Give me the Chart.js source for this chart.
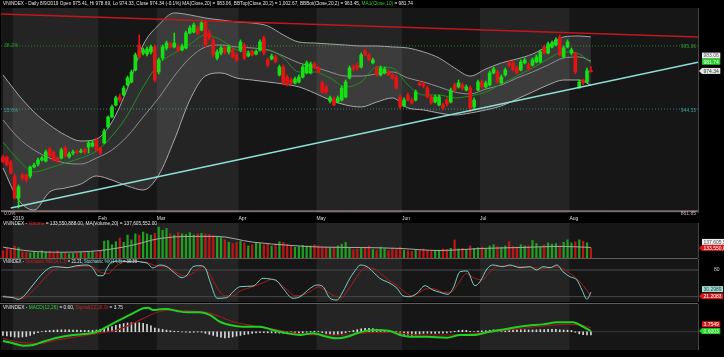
<!DOCTYPE html>
<html><head><meta charset="utf-8">
<script src="https://cdn.jsdelivr.net/npm/chart.js@4.4.1/dist/chart.umd.min.js"></script>
<style>
html,body{margin:0;padding:0;background:#000;}
#wrap{position:relative;width:724px;height:357px;background:#000;overflow:hidden;}
canvas{position:absolute;left:0;}
.hdr{position:absolute;left:3px;font-family:"Liberation Sans",Arial,sans-serif;font-size:6px;line-height:6px;color:#e4e4e4;white-space:nowrap;transform-origin:0 0;}
</style></head><body>
<div id="wrap">
<canvas id="cMain" width="724" height="222" style="top:0"></canvas>
<canvas id="cVol" width="724" height="36" style="top:222px"></canvas>
<canvas id="cSto" width="724" height="45" style="top:258px"></canvas>
<canvas id="cMacd" width="724" height="48" style="top:303px"></canvas>
<div class="hdr" id="hMain" style="top:1px"><span>VNINDEX - Daily 8/9/2019 Open 975.41, Hi 978.69, Lo 974.33, Close 974.34 (-0.1%) MA(Close,20) = 983.06, BBTop(Close,20,2) = 1,002.67, BBBot(Close,20,2) = 963.45, </span><span style="color:#2bd12b">MA1(Close,10)</span><span> = 981.74</span></div>
<div class="hdr" id="hVol" style="top:221px"><span>VNINDEX - </span><span style="color:#e02020">Volume</span><span> = 133,550,888.00, MA(Volume,20) = 137,605,552.00</span></div>
<div class="hdr" id="hSto" style="top:258.5px"><span>VNINDEX - </span><span style="color:#d02020">Stochastic %D(14,1,3)</span><span> = 21.21, </span><span style="color:#86d6c9">Stochastic %K(14,3)</span><span> = 30.30</span></div>
<div class="hdr" id="hMacd" style="top:304.5px"><span>VNINDEX - </span><span style="color:#2bd12b">MACD(12,26)</span><span> = 0.60, </span><span style="color:#d02020">Signal(12,26,9)</span><span> = 3.75</span></div>
</div>
<script>
// ---------- DATA ----------
const monthStarts = [3,25,40,61,81,103,123,146];
const monthNames  = ['2019','Feb','Mar','Apr','May','Jun','Jul','Aug'];

const opens = [905.6,905.6,901.5,890.2,872.4,891.0,891.0,890.2,897.5,899.9,
903.1,902.3,912.0,909.6,904.7,904.7,912.8,905.6,908.8,909.6,
909.6,912.0,913.6,914.4,919.3,912.8,916.9,929.8,937.9,947.6,
954.1,955.7,963.8,966.2,975.9,996.1,989.6,988.8,990.5,994.5,
974.3,985.6,993.7,996.9,994.5,994.5,992.1,993.7,1005.8,1006.6,
1009.9,1008.2,1014.7,1005.8,1000.2,985.6,989.6,993.7,990.5,992.1,
988.0,992.1,996.1,987.2,990.5,988.8,992.1,1001.8,984.0,984.8,
986.4,971.9,978.3,970.2,967.8,965.4,966.2,970.2,973.5,973.5,
980.8,977.5,965.4,962.2,950.8,952.4,950.0,951.6,954.1,969.4,
978.3,979.9,978.3,991.3,988.0,981.6,977.5,971.9,973.5,974.3,
971.9,970.2,954.1,946.8,955.7,951.6,951.6,965.4,964.6,961.3,
954.1,950.0,947.6,947.6,951.6,950.0,963.8,962.2,963.8,959.7,
961.3,946.0,959.7,966.2,962.2,963.8,973.5,974.3,965.4,971.9,
981.6,981.6,977.5,975.9,981.6,979.9,979.9,982.4,982.4,994.5,
989.6,994.5,996.1,1002.6,986.4,994.5,989.6,989.6,961.3,967.8,
966.2,975.41];
const highs = [907.2,906.4,903.1,891.8,882.9,892.6,891.8,898.3,900.7,904.7,
906.4,911.2,913.6,910.4,905.6,912.8,914.4,909.6,911.2,911.2,
912.0,912.8,918.5,918.5,920.9,913.6,928.2,938.7,947.6,954.9,
956.5,963.0,971.0,975.9,989.6,1004.2,993.7,994.5,996.1,996.1,
985.6,996.1,999.3,998.5,1005.8,996.1,996.9,1007.4,1011.5,1013.9,
1011.5,1016.3,1016.3,1008.2,1001.8,992.1,995.3,995.3,996.1,993.7,
989.6,1000.2,997.7,991.3,992.1,992.1,1000.2,1003.4,985.6,988.8,
988.0,979.9,979.9,971.9,969.4,970.2,971.9,979.9,983.2,982.4,
982.4,979.1,967.0,963.8,954.9,954.1,954.9,963.0,967.8,979.1,
979.9,981.6,989.6,992.9,989.6,985.6,979.1,979.1,978.3,975.9,
973.5,971.9,955.7,953.3,957.3,953.3,959.7,967.0,966.2,963.0,
955.7,955.7,955.7,949.2,953.3,961.3,965.4,967.8,965.4,963.8,
963.0,953.3,967.8,967.8,967.0,975.1,978.3,975.9,971.9,977.5,
983.2,983.2,979.1,984.0,985.6,981.6,985.6,988.0,992.1,996.1,
998.5,999.3,1001.8,1004.2,995.3,1000.2,993.7,990.5,967.8,968.6,
977.5,978.69];
const lows = [900.7,898.3,891.8,871.6,864.3,887.0,885.3,888.6,896.7,898.3,
902.3,901.5,905.6,902.3,900.7,903.9,905.6,904.7,907.2,908.0,
908.8,908.0,908.8,913.6,910.4,907.2,916.1,929.0,937.1,946.8,
950.0,954.9,963.0,965.4,975.1,985.6,988.0,987.2,988.8,966.2,
972.7,984.0,992.1,993.7,993.7,990.5,991.3,992.9,1005.0,1005.8,
1004.2,1007.4,994.5,1000.2,986.4,984.0,988.0,988.8,988.8,985.6,
982.4,990.5,984.0,986.4,987.2,988.0,991.3,988.0,978.3,984.0,
981.6,971.0,963.8,963.0,963.8,964.6,965.4,969.4,972.7,972.7,
976.7,973.5,957.3,956.5,949.2,946.8,949.2,950.8,953.3,968.6,
975.1,975.9,977.5,987.2,983.2,980.8,971.0,971.0,972.7,971.0,
968.6,960.5,944.4,946.0,950.8,948.4,950.8,963.0,961.3,953.3,
948.4,949.2,946.8,943.6,946.8,949.2,958.9,961.3,959.7,958.9,
941.9,944.4,958.9,961.3,961.3,963.0,972.7,965.4,964.6,971.0,
978.3,975.1,972.7,975.1,980.8,975.9,979.1,981.6,981.6,988.8,
988.8,993.7,995.3,987.2,985.6,993.7,988.0,972.7,961.3,963.8,
965.4,974.33];
const closes = [901.5,899.1,892.6,872.4,881.3,888.6,887.0,897.5,899.1,903.1,
904.7,909.6,906.4,903.1,902.3,911.2,906.4,908.0,909.6,909.2,
910.4,909.6,916.9,916.9,911.2,908.8,926.6,937.9,946.0,953.3,
951.6,961.3,969.4,974.3,988.0,986.4,992.1,992.9,994.5,967.8,
984.0,994.5,997.7,994.5,997.7,992.1,995.3,1005.8,1009.9,1012.3,
1005.8,1013.9,996.1,1001.8,988.0,990.5,993.7,990.5,994.5,986.4,
984.0,998.5,985.6,989.6,988.0,990.5,998.5,989.6,979.9,987.2,
982.4,978.3,965.4,963.8,965.4,968.6,970.2,978.3,981.6,980.8,
977.5,974.3,958.1,958.1,953.3,947.6,953.3,961.3,966.2,977.5,
976.7,977.5,988.0,988.0,984.0,984.0,971.9,977.5,976.7,971.9,
969.4,961.3,946.0,951.6,951.6,949.2,958.1,963.8,963.0,954.1,
949.2,954.1,954.1,945.2,948.4,959.7,959.7,965.4,961.3,962.2,
945.2,951.6,966.2,962.2,965.4,973.5,976.7,966.2,970.2,975.9,
979.9,975.9,973.5,982.4,984.0,976.7,984.0,986.4,990.5,989.6,
996.9,997.7,1000.2,988.0,993.7,998.5,992.1,974.3,966.2,965.4,
975.3,974.34];

// Bollinger bands / moving averages, read at every 4th bar
const bandIdx = [0,4,8,12,16,20,24,28,32,36,40,44,48,52,56,60,64,68,72,76,80,84,88,92,96,100,104,108,112,116,120,124,128,132,136,140,144,148,151];
const bbTop = [971.9,955.7,941.9,931.4,923.3,918.5,920.1,933.9,961.3,996.1,1012.3,1022.0,1020.4,1017.9,1016.3,1014.7,1013.9,1011.5,1004.2,998.5,997.7,996.9,996.1,995.3,995.3,994.5,993.7,990.5,985.6,977.5,971.0,976.7,981.6,984.8,988.8,995.3,1002.6,1003.4,1002.67];
const ma20  = [935.5,920.9,911.2,904.7,900.7,899.9,904.7,911.2,922.5,937.9,953.3,971.0,985.6,994.5,996.1,994.5,993.7,992.1,987.2,981.6,978.3,974.3,971.0,971.0,972.7,974.3,969.4,966.2,962.2,958.1,956.5,960.5,963.8,969.4,974.3,979.9,985.6,986.4,983.06];
const bbBot = [896.7,870.8,862.7,877.3,880.5,883.7,890.2,886.9,882.1,878.9,891.0,919.3,951.6,971.0,973.5,969.4,967.8,966.2,964.6,962.2,957.3,951.6,947.6,946.0,950.0,953.3,945.2,943.6,941.1,939.5,941.1,943.6,946.8,952.4,958.1,963.8,967.8,967.8,963.45];
const ma10  = [917.7,903.1,893.4,896.7,900.7,904.7,910.4,922.5,939.5,962.2,980.8,989.6,996.9,1004.2,1000.2,992.1,990.5,992.1,985.6,974.3,974.3,969.4,962.2,966.2,978.3,977.5,963.8,955.7,955.7,953.3,954.9,958.1,964.6,971.0,977.5,984.8,990.5,988.8,981.74];

const resistance = [[-0.5,1021.2],[178.5,1002.5]];
const support    = [[2,864.3],[178.5,982.1]];
const fibNames  = ['0.0%','23.6%','38.2%'];
const fibLevels = [861.85,944.33,995.36];

// volume, millions of shares
const volume = [110,130,120,150,135,100,98,92,105,95,
110,100,104,96,108,95,90,85,88,92,
100,94,98,105,96,110,190,195,160,185,
215,180,240,200,250,240,265,250,240,255,
305,280,295,250,240,260,250,245,260,240,
250,255,250,245,235,230,220,200,180,170,
180,190,175,150,160,175,170,160,170,150,
165,185,180,165,150,140,145,155,150,150,
160,150,145,140,135,140,150,165,180,130,
120,125,130,140,150,120,115,140,125,110,
130,120,140,115,110,105,115,120,125,115,
105,110,115,125,120,130,200,125,130,120,
150,130,135,140,125,150,160,145,140,150,
185,145,140,160,150,150,195,170,145,160,
175,165,170,150,180,200,175,185,200,190,
175,133.55];
const volMA = [[0,140],[7,107],[15,98],[25,112],[33,154],[40,210],[48,229],[55,229],[64,182],[74,154],[82,140],[92,137],[102,129],[112,112],[123,129],[133,137],[143,146],[151,137.6]];

// stochastic
const stochK = [[0,20],[2.6,17.8],[3.9,14.2],[5.2,20],[7.7,46.3],[10.3,73.3],[12.1,85.2],[13.9,87.4],[16.4,85.2],[19,89.7],[21.6,91.2],[23.1,83.8],[24.4,67.2],[25.7,67.2],[26.7,83.8],[28,98.6],[30,100],[32,99],[34,100],[36,97],[37,95.7],[38.5,84.5],[40.3,91.2],[42.1,87.4],[43.7,76.2],[46,62.7],[47.3,68.8],[48.8,87.4],[50.6,89.7],[51.9,85.2],[53.2,53.7],[55,16.4],[57.5,17.8],[59.1,31.2],[60.9,42.5],[64.2,44],[66.8,61.3],[68.6,59.8],[70.4,55.3],[71.9,38.9],[74.5,16.4],[76.3,20],[78.9,38.9],[80.7,46.3],[82.2,42.5],[84,16.4],[85.8,12.6],[87.3,31.2],[89.1,61.3],[90.9,83.8],[91.7,91.2],[93.5,87.4],[95,76.2],[96.8,61.3],[99.4,50.1],[101.2,38.9],[102.7,22.3],[104.5,20],[106.3,27.6],[108.4,44.7],[110.4,35.1],[112.2,29.9],[114.3,25.4],[115.6,38.9],[117.4,76.2],[119.2,77.8],[121.2,44.7],[122.5,53.7],[124.3,82.2],[125.8,91.2],[128.4,87.4],[130.2,91.2],[132.8,85.2],[135.3,87.4],[137.1,80],[138.7,87.4],[140.5,85.2],[142.3,91.2],[143.8,76.2],[145.6,64.9],[147.4,57.5],[148.7,35.1],[150,14.2],[151,30.3]];
const stochD = [[0,22],[3,18],[5,16],[7,28],[9,45],[11,65],[13,80],[15,86],[17,86],[19,87],[21,89],[23,88],[25,75],[27,72],[29,88],[31,98],[34,99],[37,97],[39,90],[41,88],[43,84],[45,72],[47,66],[49,74],[51,87],[53,72],[55,40],[57,22],[59,22],[61,33],[64,42],[67,52],[69,59],[71,50],[73,35],[75,22],[77,24],[79,32],[81,42],[83,33],[85,22],[87,19],[89,40],[91,66],[93,85],[95,84],[97,72],[99,58],[101,46],[103,32],[105,22],[107,30],[109,38],[111,37],[113,30],[115,30],[117,50],[119,72],[121,62],[123,58],[125,75],[127,88],[130,89],[133,88],[136,85],[139,84],[142,87],[144,82],[146,70],[148,55],[150,34],[151,21.21]];
const stochLevels = [20,80];

// MACD
const macd = [[0,-8.9],[2.6,-11],[5.2,-13.3],[7.7,-12.7],[10.3,-9.5],[13.9,-5.7],[18,-3.1],[21.6,-1.9],[24.2,0],[26.7,4.8],[28.3,8],[30.8,12.8],[33.4,17.5],[36,22.3],[37.3,22.9],[38.5,20.7],[40.3,21.3],[42.1,21.6],[44.7,19.7],[47.3,18.5],[50.6,18.5],[53.2,15.9],[55.7,9.5],[58.3,6.4],[61.6,4.8],[66,4.8],[69.3,1.6],[73,-1.5],[76.3,-3.1],[79.6,-1.5],[83.2,-4.8],[85.8,-6.3],[88.4,-4.8],[90.9,-1.5],[91.7,-0.6],[95,1.6],[99.4,0.7],[102,-3.1],[104.5,-4.8],[108.9,-4.8],[114,-5.7],[117.4,-3.1],[120.7,-3.1],[124.3,-0.6],[127.6,1.6],[131,3.8],[134.6,5.7],[138.7,7],[142.3,9],[146.4,9],[148.2,6.4],[150,2.6],[151,0.6]];
const signal = [[0,-6.3],[4.4,-10.1],[9.5,-11],[13.9,-7.9],[19,-4.8],[24.2,-1.5],[29.3,1.6],[33.4,8],[37,14.3],[39.6,18.5],[43.7,20.7],[48.8,19.7],[52.4,18.5],[55.7,14.3],[59.1,9.5],[64.2,5.7],[69.3,2.6],[73.7,-0.6],[78.1,-2.5],[83.2,-3.1],[88.4,-3.1],[91.7,-1.5],[96.1,-0.6],[100.2,-0.6],[104.5,-2.5],[108.9,-3.1],[114,-3.1],[119.2,-2.5],[124.3,-0.6],[129.4,1.6],[134.6,3.8],[139.7,5.7],[144.8,7],[148.2,6.4],[151,3.75]];
const macdHist = [-3.5,-4,-4.5,-5,-5.2,-5,-4.5,-3.5,-2.2,-1,
0.2,0.8,1.2,1.5,1.7,1.8,1.8,1.7,1.6,1.5,
1.4,1.3,1.3,1.4,1.6,2.2,3.0,4.0,5.0,6.0,
7.0,7.8,8.3,8.6,8.8,8.6,8.0,7.0,5.5,3.5,
2.8,2.2,1.6,1.0,0.5,0.2,-0.2,-0.5,-0.6,-0.5,
-0.3,-0.5,-1.5,-2.5,-3.5,-4.5,-5.3,-5.8,-5.5,-5.0,
-4.2,-3.5,-2.8,-2.2,-1.6,-1.2,-1.0,-0.9,-1.0,-1.1,
-1.2,-1.4,-1.5,-1.6,-1.7,-1.6,-1.4,-1.0,-0.5,0.2,
0.5,0.2,-0.8,-1.6,-2.2,-2.8,-2.5,-1.8,-1.0,0.2,
1.2,2.0,2.8,3.2,3.3,3.0,2.4,1.8,1.2,0.8,
0.3,-0.5,-1.8,-2.6,-3.2,-3.5,-3.0,-2.2,-1.6,-1.4,
-1.5,-1.6,-1.4,-1.3,-1.2,-0.5,0.5,1.2,1.5,1.3,
0.3,0.2,0.6,0.9,1.0,1.4,1.8,1.7,1.6,1.7,
2.0,1.9,1.7,1.8,1.9,1.7,1.7,1.8,2.0,2.0,
2.2,2.3,2.4,1.8,1.6,1.5,1.2,-0.5,-2.0,-2.8,
-3.0,-3.15];

// ---------- STYLE ----------
const X_MIN = -0.5, X_MAX = 178.5;
const GREEN = '#14e014', RED = '#e31414';
const DARK = '#161616', LIGHT = '#242424';
const FONT = '"Liberation Sans", Arial, sans-serif';

const isUp = i => closes[i] >= opens[i];
const pts = arr => arr.map(p => ({x:p[0], y:p[1]}));
const sampled = vals => bandIdx.map((x,k) => ({x, y:vals[k]}));
const hline = v => [{x:X_MIN,y:v},{x:X_MAX,y:v}];
const lineDs = (data, color, width, extra) => Object.assign({type:'line', data, borderColor:color, borderWidth:width, pointRadius:0, pointHitRadius:0, fill:false, cubicInterpolationMode:'monotone'}, extra||{});

const shadePlugin = {
  id:'shade',
  beforeDraw(chart){
    const {ctx, chartArea:a, scales:{x}} = chart;
    ctx.save();
    ctx.fillStyle = '#000'; ctx.fillRect(0,0,chart.width,chart.height);
    ctx.fillStyle = DARK; ctx.fillRect(a.left,a.top,a.right-a.left,a.bottom-a.top);
    ctx.fillStyle = LIGHT;
    for (let m = 0; m < monthStarts.length-1; m += 2) {
      const x0 = x.getPixelForValue(monthStarts[m]-0.5), x1 = x.getPixelForValue(monthStarts[m+1]-0.5);
      ctx.fillRect(x0, a.top, x1-x0, a.bottom-a.top);
    }
    ctx.restore();
  },
  afterDraw(chart){
    const {ctx, chartArea:a} = chart;
    ctx.save();
    ctx.strokeStyle = '#474747'; ctx.lineWidth = 1;
    ctx.beginPath(); ctx.moveTo(a.right+0.5, a.top); ctx.lineTo(a.right+0.5, a.bottom); ctx.stroke();
    if (chart.options.plugins.shade && chart.options.plugins.shade.topLine) {
      ctx.strokeStyle = '#5e5e5e';
      ctx.beginPath(); ctx.moveTo(0, 0.5); ctx.lineTo(a.right, 0.5); ctx.stroke();
    }
    ctx.restore();
  }
};

function tag(ctx, x, y, text, bg, fg, arrow){
  ctx.font = '5px ' + FONT;
  const w = ctx.measureText(text).width + 3;
  ctx.fillStyle = bg;
  ctx.fillRect(x, y-3, w, 6);
  if (arrow) { ctx.beginPath(); ctx.moveTo(x, y-3); ctx.lineTo(x-3, y); ctx.lineTo(x, y+3); ctx.closePath(); ctx.fill(); }
  ctx.fillStyle = fg; ctx.textAlign = 'left'; ctx.textBaseline = 'middle';
  ctx.fillText(text, x+1.5, y+0.4);
}

function baseOptions(yMin, yMax, padding, xOpts){
  return {
    responsive:false, animation:false, devicePixelRatio:1, events:[],
    layout:{padding},
    plugins:{legend:{display:false}, tooltip:{enabled:false}},
    scales:{
      x: Object.assign({type:'linear', min:X_MIN, max:X_MAX, offset:false, display:false, bounds:'ticks'}, xOpts||{}),
      y: {type:'linear', min:yMin, max:yMax, display:false}
    }
  };
}

// ---------- MAIN PRICE CHART ----------
const fibColors = ['#c9abb1','#3f9a93','#2f9a2f'];
const mainLabels = {
  id:'mainLabels',
  afterDraw(chart){
    const {ctx, chartArea:a, scales:{y}} = chart;
    ctx.save();
    ctx.font = '5px ' + FONT; ctx.textBaseline = 'middle';
    const leftDy = [3, 2, -0.5], rightDy = [2.5, 1.5, 0.5];
    fibLevels.forEach((v,k) => {
      const py = y.getPixelForValue(v);
      ctx.fillStyle = fibColors[k];
      ctx.textAlign = 'left'; ctx.fillText(fibNames[k], a.left+3, py+leftDy[k]);
      ctx.textAlign = 'right'; ctx.fillText(v.toFixed(2), a.right-2, py+rightDy[k]);
    });
    tag(ctx, 702, y.getPixelForValue(ma20[ma20.length-1])-5.5, ma20[ma20.length-1].toFixed(2), '#ededed', '#666', false);
    tag(ctx, 702, y.getPixelForValue(ma10[ma10.length-1])-1, ma10[ma10.length-1].toFixed(2), '#1fd21f', '#f4fff4', false);
    tag(ctx, 702, y.getPixelForValue(closes[closes.length-1])-1, closes[closes.length-1].toFixed(2), '#e6e6e6', '#333', true);
    ctx.restore();
  }
};

new Chart(document.getElementById('cMain'), {
  type:'bar',
  data:{datasets:[
    lineDs(hline(fibLevels[0]), fibColors[0], 1, {order:30}),
    lineDs(hline(fibLevels[1]), '#2f7f7a', 1, {borderDash:[1,2], order:30}),
    lineDs(hline(fibLevels[2]), '#247c24', 1, {borderDash:[1,2], order:30}),
    lineDs(sampled(bbTop), '#a3a3a3', 1, {fill:'+1', backgroundColor:'rgba(255,255,255,0.11)', order:20}),
    lineDs(sampled(bbBot), '#a3a3a3', 1, {order:20}),
    lineDs(sampled(ma20), '#8f8f8f', 1, {order:19}),
    lineDs(sampled(ma10), '#1e8f1e', 1, {order:18}),
    {type:'bar', data: closes.map((c,i)=>({x:i, y:[lows[i], highs[i]]})), backgroundColor: c=>isUp(c.dataIndex)?GREEN:RED, barThickness:1, grouped:false, order:5},
    {type:'bar', data: closes.map((c,i)=>({x:i, y:[opens[i], c]})), backgroundColor: c=>isUp(c.dataIndex)?GREEN:RED, barThickness:3, minBarLength:1, grouped:false, order:4},
    lineDs(pts(resistance), '#c4161c', 1.5, {cubicInterpolationMode:'default', order:1}),
    lineDs(pts(support), '#8fe0d4', 1.5, {cubicInterpolationMode:'default', order:1})
  ]},
  options: baseOptions(860.3, 1026.0, {left:1,right:26,top:8,bottom:0}, {
    display:true, position:'bottom',
    grid:{display:false, drawTicks:false}, border:{display:false},
    afterBuildTicks: s => { s.ticks = monthStarts.map(v => ({value:v-0.5})); },
    afterFit: s => { s.height = 9; },
    ticks:{autoSkip:false, maxRotation:0, minRotation:0, align:'start', padding:3, color:'#dcdcdc',
      font:{family:'Liberation Sans', size:5},
      callback: v => { const k = monthStarts.indexOf(Math.round(v+0.5)); return k >= 0 ? monthNames[k] : ''; }}
  }),
  plugins:[shadePlugin, mainLabels]
});

// ---------- VOLUME ----------
const volLabels = {
  id:'volLabels',
  afterDraw(chart){
    const {ctx, scales:{y}} = chart;
    ctx.save();
    tag(ctx, 702, y.getPixelForValue(volMA[volMA.length-1][1])-5.5, '137,605,552', '#ededed', '#555', false);
    tag(ctx, 702, y.getPixelForValue(volume[volume.length-1]), '133,550,888', '#d41818', '#fff', true);
    ctx.restore();
  }
};
new Chart(document.getElementById('cVol'), {
  type:'bar',
  data:{datasets:[
    lineDs(pts(volMA), '#a8a8a8', 1, {order:1}),
    {type:'bar', data: volume.map((v,i)=>({x:i, y:v})), backgroundColor: c=>isUp(c.dataIndex)?'#1f9e1f':'#bc1616', barThickness:1.6, grouped:false, order:2}
  ]},
  options: baseOptions(50, 340, {left:1,right:26,top:1,bottom:0}),
  plugins:[shadePlugin, volLabels]
});

// ---------- STOCHASTIC ----------
const stoLabels = {
  id:'stoLabels',
  afterDraw(chart){
    const {ctx, scales:{y}} = chart;
    ctx.save();
    ctx.font = '5px ' + FONT; ctx.fillStyle = '#d0d0d0'; ctx.textAlign = 'left'; ctx.textBaseline = 'middle';
    ctx.fillText(String(stochLevels[1]), 714, y.getPixelForValue(stochLevels[1]));
    tag(ctx, 702, y.getPixelForValue(30.2989)-3, '30.2989', '#9fe3d8', '#333', false);
    tag(ctx, 702, y.getPixelForValue(21.2083), '21.2083', '#d41818', '#fff', true);
    ctx.restore();
  }
};
const stoOpts = baseOptions(8.1, 104.7, {left:1,right:26,top:1,bottom:1});
stoOpts.plugins.shade = {topLine:true};
new Chart(document.getElementById('cSto'), {
  type:'line',
  data:{datasets:[
    lineDs(hline(stochLevels[0]), '#4a4a4a', 1, {order:10}),
    lineDs(hline(stochLevels[1]), '#4a4a4a', 1, {order:10}),
    lineDs(pts(stochD), '#a81c1c', 1, {order:2}),
    lineDs(pts(stochK), '#7fcfc2', 1, {order:1})
  ]},
  options: stoOpts,
  plugins:[shadePlugin, stoLabels]
});

// ---------- MACD ----------
const macdLabels = {
  id:'macdLabels',
  afterDraw(chart){
    const {ctx, scales:{y}} = chart;
    ctx.save();
    tag(ctx, 702, y.getPixelForValue(3.75)-3.5, '3.7549', '#d41818', '#fff', false);
    tag(ctx, 702, y.getPixelForValue(0.60), '0.6003', '#1fd21f', '#f4fff4', true);
    ctx.restore();
  }
};
const macdOpts = baseOptions(-17.4, 26.4, {left:1,right:26,top:1,bottom:1});
macdOpts.plugins.shade = {topLine:true};
new Chart(document.getElementById('cMacd'), {
  type:'bar',
  data:{datasets:[
    lineDs(hline(0), '#3a3a3a', 1, {order:10}),
    {type:'bar', data: macdHist.map((v,i)=>({x:i, y:v})), backgroundColor:'#d6d6d6', barThickness:1, grouped:false, order:5},
    lineDs(pts(signal), '#931c1c', 1.2, {order:2}),
    lineDs(pts(macd), '#22d022', 2, {order:1})
  ]},
  options: macdOpts,
  plugins:[shadePlugin, macdLabels]
});

// ---------- header sizing ----------
function fitHeader(id, width){
  const el = document.getElementById(id);
  const w = el.getBoundingClientRect().width;
  el.style.transform = 'scale(' + (width / w) + ',0.85)';
}
fitHeader('hMain', 410);
fitHeader('hVol', 154);
fitHeader('hSto', 134);
fitHeader('hMacd', 120);
</script>
</body></html>
